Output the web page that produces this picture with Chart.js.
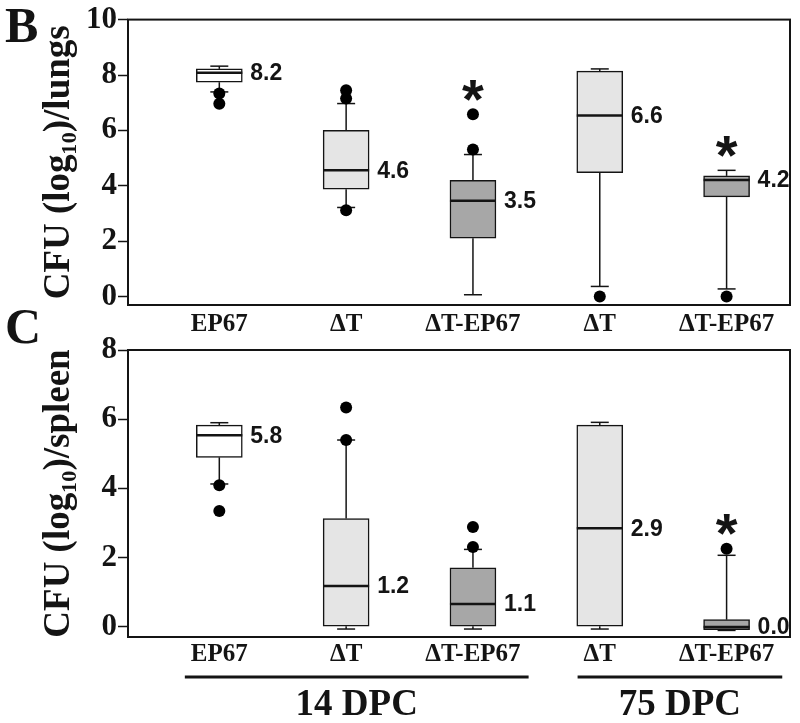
<!DOCTYPE html>
<html><head><meta charset="utf-8">
<script src="https://cdn.jsdelivr.net/npm/chart.js@4.4.1/dist/chart.umd.min.js"></script>
<style>
html,body{margin:0;padding:0;background:#fff;}
#wrap{position:relative;width:800px;height:723px;overflow:hidden;background:#fff;}
#cB{position:absolute;left:0;top:0;}
#cC{position:absolute;left:0;top:300px;}
</style></head><body>
<div id="wrap"><canvas id="cB" width="800" height="340"></canvas><canvas id="cC" width="800" height="423"></canvas></div>
<script>
// ---- data ----
const categories = ['EP67', 'ΔT', 'ΔT-EP67', 'ΔT', 'ΔT-EP67'];
const groupLabels = ['14 DPC', '75 DPC'];
const groupFirst = [0, 3];
const groupLast = [2, 4];

// Panel B: lungs
const lungLow = [7.39, 3.22, 0.07, 0.37, 0.28];
const lungQ1 = [7.74, 3.88, 2.11, 4.48, 3.60];
const lungMedian = [8.08, 4.56, 3.46, 6.54, 4.21];
const lungQ3 = [8.22, 6.00, 4.20, 8.14, 4.36];
const lungHigh = [8.32, 6.97, 5.13, 8.22, 4.56];
const lungOutliers = [[7.33, 6.96], [7.45, 7.15, 3.12], [6.58, 5.31], [0.01], [0.01]];
const lungMedianLabels = ['8.2', '4.6', '3.5', '6.6', '4.2'];
const lungSignificant = [false, false, true, false, true];
const lungTicks = [0, 2, 4, 6, 8, 10];

// Panel C: spleen
const spleenLow = [4.13, -0.06, -0.06, -0.06, -0.10];
const spleenQ1 = [4.90, 0.02, 0.02, 0.02, -0.08];
const spleenMedian = [5.54, 1.18, 0.66, 2.85, 0.00];
const spleenQ3 = [5.83, 3.13, 1.71, 5.83, 0.21];
const spleenHigh = [5.90, 5.40, 2.24, 5.91, 2.07];
const spleenOutliers = [[4.09, 3.35], [6.34, 5.40], [2.89, 2.31], [], [2.26]];
const spleenMedianLabels = ['5.8', '1.2', '1.1', '2.9', '0.0'];
const spleenSignificant = [false, false, false, false, true];
const spleenTicks = [0, 2, 4, 6, 8];

// ---- styles ----
const INK = '#141414';
const SERIF = "'Liberation Serif', 'Times New Roman', serif";
const SANS = "'Liberation Sans', Arial, sans-serif";
const BOX_FILL = {'EP67': '#ffffff', 'ΔT': '#e5e5e5', 'ΔT-EP67': '#a7a7a7'};
const X_MIN = -0.72, X_MAX = 4.5;
const CAP = 9;

function boxPlugin(p) {
  return {
    id: 'boxDecor',
    beforeDatasetsDraw(chart) {
      const {ctx, scales: {x, y}} = chart;
      ctx.save();
      ctx.strokeStyle = INK; ctx.lineWidth = 1.5;
      categories.forEach((c, i) => {
        const px = x.getPixelForValue(i);
        const seg = (a, b) => { ctx.beginPath(); ctx.moveTo(px, y.getPixelForValue(a)); ctx.lineTo(px, y.getPixelForValue(b)); ctx.stroke(); };
        seg(p.q3[i], p.high[i]);
        seg(p.q1[i], p.low[i]);
        [p.high[i], p.low[i]].forEach(v => {
          const py = y.getPixelForValue(v);
          ctx.beginPath(); ctx.moveTo(px - CAP, py); ctx.lineTo(px + CAP, py); ctx.stroke();
        });
      });
      ctx.restore();
    },
    afterDatasetsDraw(chart) {
      const {ctx, scales: {x, y}} = chart;
      const bars = chart.getDatasetMeta(0).data;
      ctx.save();
      categories.forEach((c, i) => {
        const b = bars[i];
        const half = b.width / 2;
        const my = y.getPixelForValue(p.median[i]);
        ctx.strokeStyle = INK; ctx.lineWidth = 2.5;
        ctx.beginPath(); ctx.moveTo(b.x - half, my); ctx.lineTo(b.x + half, my); ctx.stroke();
        ctx.fillStyle = INK;
        ctx.font = 'bold 23px ' + SANS;
        ctx.textAlign = 'left'; ctx.textBaseline = 'middle';
        ctx.fillText(p.labels[i], b.x + half + 8, my + 1);
        if (p.sig[i]) {
          const top = Math.max(p.high[i], ...p.outliers[i]);
          const cy = y.getPixelForValue(top) - 29;
          ctx.font = 'bold 56px ' + SANS;
          ctx.textAlign = 'center'; ctx.textBaseline = 'alphabetic';
          ctx.fillText('*', b.x, cy + 0.58 * 56);
        }
      });
      ctx.restore();
    },
    afterDraw(chart) {
      const {ctx, chartArea: a, scales: {x}} = chart;
      ctx.save();
      ctx.strokeStyle = INK; ctx.lineWidth = 2;
      ctx.strokeRect(a.left, a.top, a.right - a.left, a.bottom - a.top);
      ctx.fillStyle = INK;
      ctx.font = 'bold 50px ' + SERIF;
      ctx.textAlign = 'left'; ctx.textBaseline = 'alphabetic';
      ctx.fillText(p.letter, 5, p.letterBase);
      if (p.groups) {
        ctx.font = 'bold 25px ' + SERIF;
        groupLabels.forEach((g, k) => {
          const f = groupFirst[k], l = groupLast[k];
          const x1 = x.getPixelForValue(f) - ctx.measureText(categories[f]).width / 2 - 6;
          const x2 = x.getPixelForValue(l) + ctx.measureText(categories[l]).width / 2 + 8;
          ctx.lineWidth = 3;
          ctx.beginPath(); ctx.moveTo(x1, p.groupLineY); ctx.lineTo(x2, p.groupLineY); ctx.stroke();
          ctx.save();
          ctx.font = 'bold 37px ' + SERIF;
          ctx.textAlign = 'center'; ctx.textBaseline = 'middle';
          ctx.fillText(g, (x1 + x2) / 2, p.groupTextY);
          ctx.restore();
        });
      }
      ctx.restore();
    }
  };
}

function makePanel(id, p) {
  const boxData = categories.map((c, i) => ({x: i, y: [p.q1[i], p.q3[i]]}));
  const outlierData = [];
  p.outliers.forEach((arr, i) => arr.forEach(v => outlierData.push({x: i, y: v})));
  return new Chart(document.getElementById(id), {
    type: 'bar',
    data: {datasets: [
      {type: 'bar', data: boxData, backgroundColor: categories.map(c => BOX_FILL[c]),
       borderColor: INK, borderWidth: 1.5, borderSkipped: false, barThickness: 46, order: 2},
      {type: 'line', data: outlierData, showLine: false, pointRadius: 6,
       pointBackgroundColor: '#000', pointBorderWidth: 0, order: 1}
    ]},
    options: {
      responsive: false, animation: false, events: [],
      layout: {padding: {top: p.padTop, right: 10, left: 0, bottom: 0}},
      plugins: {legend: {display: false}, tooltip: {enabled: false}},
      scales: {
        x: {type: 'linear', min: X_MIN, max: X_MAX, offset: false,
          afterBuildTicks(s) { s.ticks = categories.map((c, i) => ({value: i})); },
          afterFit(s) { s.height = p.xAxisH; },
          ticks: {callback: (v) => categories[v], autoSkip: false, maxRotation: 0, minRotation: 0,
            padding: p.xPad, color: INK, font: {family: SERIF, size: 25, weight: 'bold'}},
          grid: {display: false, drawTicks: false}, border: {display: false}},
        y: {type: 'linear', min: p.yMin, max: p.yMax,
          afterBuildTicks(s) { s.ticks = p.ticks.map(v => ({value: v})); },
          afterFit(s) { s.width = 128; },
          ticks: {padding: 1, color: INK, font: {family: SERIF, size: 31, weight: 'bold'}},
          grid: {drawOnChartArea: false, drawTicks: true, tickLength: 10, tickColor: INK, tickWidth: 1.5},
          border: {display: false},
          title: {display: true, text: p.yTitle, color: INK,
            font: {family: SERIF, size: 37, weight: 'bold'}, padding: {top: 37, bottom: 0}}}
      }
    },
    plugins: [boxPlugin(p)]
  });
}

makePanel('cB', {
  low: lungLow, q1: lungQ1, median: lungMedian, q3: lungQ3, high: lungHigh,
  outliers: lungOutliers, labels: lungMedianLabels, sig: lungSignificant, ticks: lungTicks,
  yMin: -0.3, yMax: 10, yTitle: 'CFU (log₁₀)/lungs', letter: 'B', letterBase: 42,
  padTop: 18, xAxisH: 35, xPad: 5, groups: false
});
makePanel('cC', {
  low: spleenLow, q1: spleenQ1, median: spleenMedian, q3: spleenQ3, high: spleenHigh,
  outliers: spleenOutliers, labels: spleenMedianLabels, sig: spleenSignificant, ticks: spleenTicks,
  yMin: -0.29, yMax: 8, yTitle: 'CFU (log₁₀)/spleen', letter: 'C', letterBase: 43,
  padTop: 50, xAxisH: 86, xPad: 3, groups: true, groupLineY: 377, groupTextY: 405
});
</script>
</body></html>
